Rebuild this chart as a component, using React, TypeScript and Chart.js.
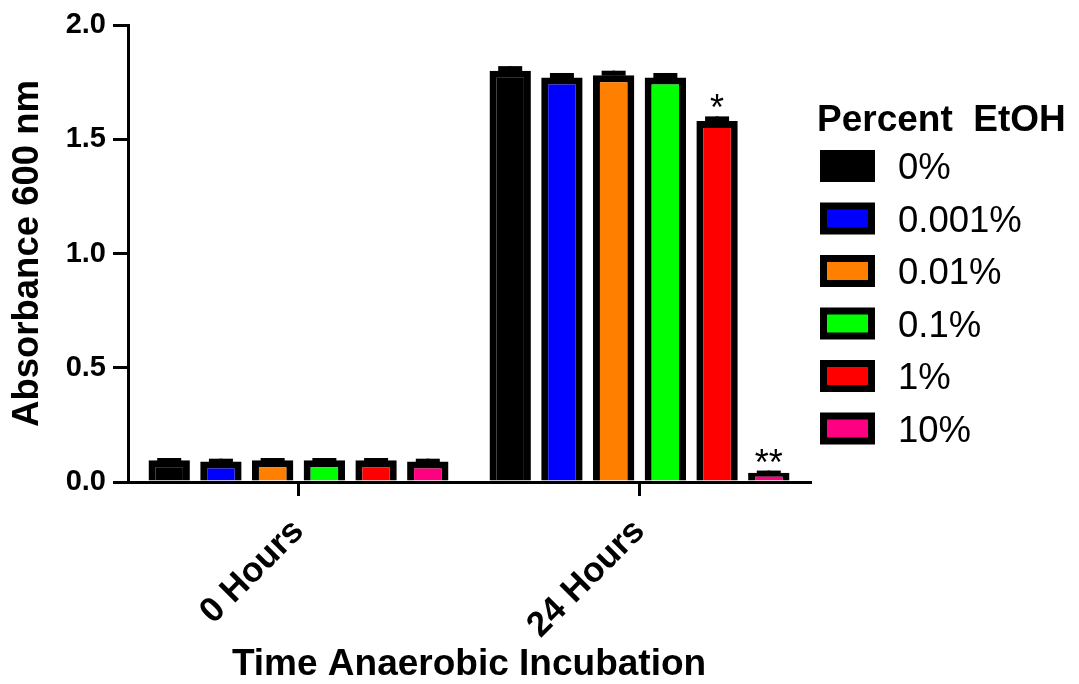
import React, { useEffect, useRef } from 'react';
import { Chart, registerables } from 'chart.js';

Chart.register(...registerables);

const categories = ['0 Hours', '24 Hours'];
const seriesLabels = ['0%', '0.001%', '0.01%', '0.1%', '1%', '10%'];
const seriesColors = ['#000000', '#0000FF', '#FF8000', '#00FF00', '#FF0000', '#FF0080'];
const valuesHour0 = [0.095, 0.09, 0.095, 0.095, 0.095, 0.09];
const valuesHour24 = [1.8, 1.77, 1.78, 1.77, 1.58, 0.04];
const errorsHour0 = [0.01, 0.012, 0.01, 0.01, 0.01, 0.012];
const errorsHour24 = [0.02, 0.02, 0.02, 0.02, 0.02, 0.01];
const significanceHour0 = ['', '', '', '', '', ''];
const significanceHour24 = ['', '', '', '', '*', '**'];
const yTickValues = [0, 0.5, 1.0, 1.5, 2.0];
const legendTitle = 'Percent  EtOH';
const yTitle = 'Absorbance 600 nm';
const xTitle = 'Time Anaerobic Incubation';

const FONT = 'Arial, "Liberation Sans", sans-serif';

const errorBarPlugin = {
  id: 'errorBars',
  afterDatasetsDraw(chart: any) {
    const ctx = chart.ctx;
    const yScale = chart.scales.y;
    ctx.save();
    chart.data.datasets.forEach((ds: any, di: number) => {
      const meta = chart.getDatasetMeta(di);
      meta.data.forEach((bar: any, i: number) => {
        const v = ds.data[i];
        const e = ds.errors[i];
        const yTop = yScale.getPixelForValue(v + e);
        const yVal = yScale.getPixelForValue(v);
        ctx.fillStyle = '#000';
        ctx.fillRect(bar.x - 1.5, yTop, 3, Math.max(0, yVal - yTop));
        ctx.fillRect(bar.x - 12, yTop, 24, 5);
        const sig = ds.significance[i];
        if (sig) {
          ctx.font = `36px ${FONT}`;
          ctx.textAlign = 'center';
          ctx.textBaseline = 'alphabetic';
          ctx.fillText(sig, bar.x, yTop + 4);
        }
      });
    });
    ctx.restore();
  },
};

const legendPlugin = {
  id: 'sideLegend',
  afterDraw(chart: any) {
    const ctx = chart.ctx;
    const left = chart.chartArea.right + 10;
    ctx.save();
    ctx.fillStyle = '#000';
    ctx.textAlign = 'left';
    ctx.textBaseline = 'alphabetic';
    ctx.font = `bold 37px ${FONT}`;
    ctx.fillText(legendTitle, left - 3, 131);
    chart.data.datasets.forEach((ds: any, i: number) => {
      const top = 150 + i * 52.5;
      ctx.fillStyle = '#000';
      ctx.fillRect(left, top, 55, 32);
      ctx.fillStyle = ds.backgroundColor;
      ctx.fillRect(left + 7, top + 7, 41, 18);
      ctx.fillStyle = '#000';
      ctx.font = `36.5px ${FONT}`;
      ctx.fillText(ds.label, left + 78, top + 29);
    });
    ctx.restore();
  },
};

export default function App() {
  const canvasRef = useRef<HTMLCanvasElement | null>(null);

  useEffect(() => {
    if (!canvasRef.current) return;
    const datasets = seriesLabels.map((label, s) => ({
      label,
      data: [valuesHour0[s], valuesHour24[s]],
      errors: [errorsHour0[s], errorsHour24[s]],
      significance: [significanceHour0[s], significanceHour24[s]],
      backgroundColor: seriesColors[s],
      borderColor: '#000000',
      borderWidth: 7,
      categoryPercentage: 0.91,
      barPercentage: 0.8,
    }));

    const chart = new Chart(canvasRef.current, {
      type: 'bar',
      data: { labels: categories, datasets: datasets as any },
      options: {
        animation: false,
        responsive: true,
        maintainAspectRatio: false,
        layout: { padding: { left: 0, right: 269, top: 25, bottom: 0 } },
        plugins: {
          legend: { display: false },
          tooltip: { enabled: false },
        },
        scales: {
          x: {
            type: 'category',
            afterFit(scale: any) {
              scale.height = 202;
            },
            grid: {
              display: true,
              drawOnChartArea: false,
              drawTicks: true,
              tickLength: 14,
              offset: false,
              color: '#000',
              lineWidth: 3,
            },
            border: { display: true, color: '#000', width: 3 },
            ticks: {
              color: '#000',
              font: { family: FONT, size: 35, weight: 'bold' },
              maxRotation: 45,
              minRotation: 45,
              padding: 15,
              autoSkip: false,
            },
            title: {
              display: true,
              text: xTitle,
              color: '#000',
              font: { family: FONT, size: 37, weight: 'bold', lineHeight: 1.0 },
              padding: { top: 0, bottom: 1 },
            },
          },
          y: {
            type: 'linear',
            min: 0,
            max: 2,
            afterFit(scale: any) {
              scale.width = 128;
            },
            afterBuildTicks(scale: any) {
              scale.ticks = yTickValues.map((v) => ({ value: v }));
            },
            grid: {
              display: true,
              drawOnChartArea: false,
              drawTicks: true,
              tickLength: 15,
              color: '#000',
              lineWidth: 3,
            },
            border: { display: true, color: '#000', width: 3 },
            ticks: {
              color: '#000',
              font: { family: FONT, size: 29, weight: 'bold' },
              padding: 7,
              callback: (v: any) => Number(v).toFixed(1),
            },
            title: {
              display: true,
              text: yTitle,
              color: '#000',
              font: { family: FONT, size: 36.5, weight: 'bold', lineHeight: 1.0 },
              padding: { top: 10, bottom: 0 },
            },
          },
        },
      },
      plugins: [errorBarPlugin, legendPlugin],
    });
    return () => chart.destroy();
  }, []);

  return (
    <div style={{ position: 'fixed', left: 0, top: 0, width: 1079, height: 684, background: '#fff' }}>
      <canvas ref={canvasRef} />
    </div>
  );
}
